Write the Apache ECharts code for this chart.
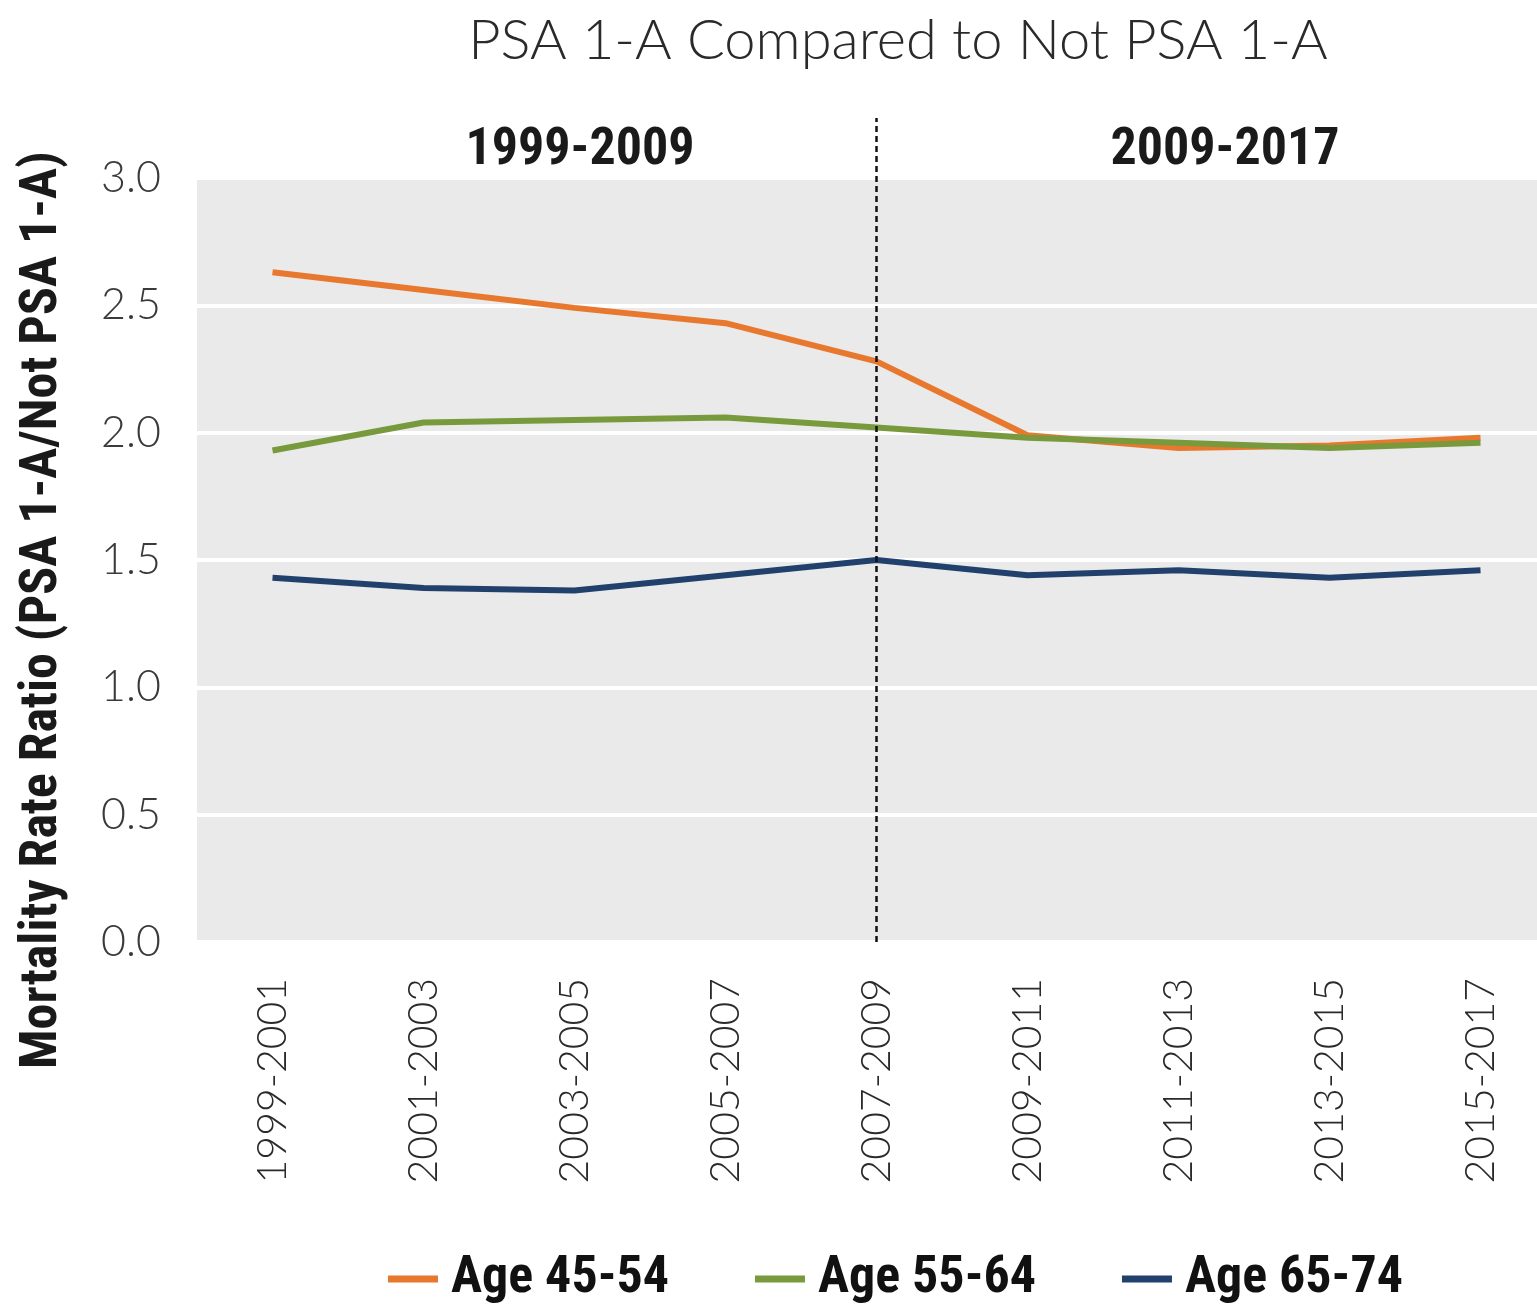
<!DOCTYPE html>
<html>
<head>
<meta charset="utf-8">
<script src="https://cdn.jsdelivr.net/npm/echarts@6/dist/echarts.min.js"></script>
<style>
  html, body { margin: 0; padding: 0; background: #ffffff; overflow: hidden; }
  /* the plot panel runs off the right edge of the page */
  #chart { width: 1556px; height: 1312px; }
</style>
</head>
<body>
<div id="chart"></div>
<script>
// Three-year periods on the x axis
const periods = ['1999-2001', '2001-2003', '2003-2005', '2005-2007', '2007-2009',
                 '2009-2011', '2011-2013', '2013-2015', '2015-2017'];

// Mortality rate ratio, PSA 1-A vs. not PSA 1-A, by age group
const age4554 = [2.63, 2.56, 2.49, 2.43, 2.28, 1.99, 1.94, 1.95, 1.98];
const age5564 = [1.93, 2.04, 2.05, 2.06, 2.02, 1.98, 1.96, 1.94, 1.96];
const age6574 = [1.43, 1.39, 1.38, 1.44, 1.50, 1.44, 1.46, 1.43, 1.46];

const seriesNames = ['Age 45-54', 'Age 55-64', 'Age 65-74'];
const yTicks = { min: 0, max: 3, interval: 0.5 };

// Period split: the dashed divider sits on this category
const splitPeriod = '2007-2009';
const eraLabels = ['1999-2009', '2009-2017'];

const colors = ['#E7782D', '#789A3D', '#22406C'];
const narrow = '"Liberation Sans Narrow", "Roboto Condensed", "Liberation Sans", sans-serif';
const light = 'Lato, "Open Sans", sans-serif';

const chart = echarts.init(document.getElementById('chart'), null, { renderer: 'canvas' });

const lineSeries = [age4554, age5564, age6574].map((vals, i) => ({
  name: seriesNames[i],
  type: 'line',
  data: vals,
  symbol: 'none',
  smooth: false,
  lineStyle: { width: 6, color: colors[i] },
  itemStyle: { color: colors[i] },
  z: 3
}));

chart.setOption({
  animation: false,
  backgroundColor: '#ffffff',
  title: [
    {
      text: 'PSA 1-A Compared to Not PSA 1-A',
      left: 893, top: 8, textAlign: 'center',
      textStyle: { fontFamily: light, fontWeight: 300, fontSize: 56, color: '#2a2a2a' }
    },
    {
      text: eraLabels[0],
      left: 575, top: 120, textAlign: 'center',
      textStyle: { fontFamily: narrow, fontWeight: 'bold', fontSize: 52, color: '#1a1a1a' }
    },
    {
      text: eraLabels[1],
      left: 1220, top: 120, textAlign: 'center',
      textStyle: { fontFamily: narrow, fontWeight: 'bold', fontSize: 52, color: '#1a1a1a' }
    }
  ],
  legend: {
    bottom: 2,
    left: 383,
    icon: 'rect',
    itemWidth: 50,
    itemHeight: 7,
    itemGap: 86,
    textStyle: { fontFamily: narrow, fontWeight: 'bold', fontSize: 52, color: '#111', padding: [0, 0, 0, 8] },
    data: seriesNames
  },
  grid: {
    left: 197,
    top: 178,
    right: 0,
    bottom: 370,
    show: true,
    backgroundColor: '#EAEAEA',
    borderWidth: 0
  },
  xAxis: {
    type: 'category',
    data: periods,
    boundaryGap: true,
    axisLine: { show: false },
    axisTick: { show: false },
    axisLabel: {
      rotate: 90,
      margin: 36,
      interval: 0,
      fontFamily: light,
      fontWeight: 300,
      fontSize: 41,
      color: '#2a2a2a'
    },
    splitLine: { show: false }
  },
  yAxis: {
    type: 'value',
    min: yTicks.min,
    max: yTicks.max,
    interval: yTicks.interval,
    name: 'Mortality Rate Ratio (PSA 1-A/Not PSA 1-A)',
    nameLocation: 'middle',
    nameGap: 128,
    nameTextStyle: {
      fontFamily: narrow, fontWeight: 'bold', fontSize: 52, color: '#1a1a1a',
      padding: [0, 100, 0, 0]
    },
    axisLine: { show: false },
    axisTick: { show: false },
    axisLabel: {
      margin: 36,
      fontFamily: light,
      fontWeight: 300,
      fontSize: 43,
      color: '#3a3a3a',
      formatter: v => v.toFixed(1)
    },
    splitLine: { show: true, lineStyle: { color: '#ffffff', width: 4 } }
  },
  series: lineSeries
});

// Dashed divider between the two eras, placed through the axis scales
function drawDivider() {
  const bottom = chart.convertToPixel({ gridIndex: 0 }, [splitPeriod, yTicks.min]);
  const top = chart.convertToPixel({ gridIndex: 0 }, [splitPeriod, yTicks.max]);
  chart.setOption({
    graphic: [{
      id: 'divider',
      type: 'line',
      z: 10,
      shape: { x1: bottom[0], y1: bottom[1], x2: top[0], y2: top[1] - 60 },
      style: { stroke: '#111', lineWidth: 2.5, lineDash: [6, 4] }
    }]
  });
}
drawDivider();
</script>
</body>
</html>
